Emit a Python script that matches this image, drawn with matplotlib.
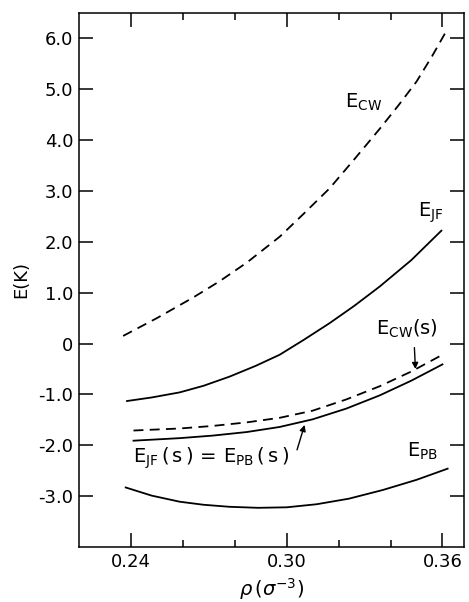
import matplotlib
matplotlib.use('Agg')
import matplotlib.pyplot as plt
import numpy as np

# curves: density rho (sigma^-3) vs energy E (K)
rho_cw = [0.237, 0.250, 0.2638, 0.274, 0.2846, 0.2973, 0.3065, 0.3165, 0.326,
          0.3358, 0.343, 0.350, 0.356, 0.361]
e_cw = [0.15, 0.50, 0.90, 1.22, 1.59, 2.10, 2.55, 3.05, 3.62,
        4.22, 4.68, 5.15, 5.65, 6.10]

rho_jf = [0.2385, 0.248, 0.2588, 0.268, 0.278, 0.288, 0.2973, 0.3065, 0.3165,
          0.326, 0.3358, 0.348, 0.3596]
e_jf = [-1.13, -1.06, -0.96, -0.83, -0.65, -0.44, -0.22, 0.07, 0.40,
        0.74, 1.12, 1.64, 2.22]

rho_cws = [0.241, 0.2588, 0.2715, 0.2846, 0.2973, 0.310, 0.3229, 0.3358, 0.348, 0.360]
e_cws = [-1.71, -1.67, -1.62, -1.55, -1.46, -1.32, -1.10, -0.84, -0.55, -0.22]

rho_jfs = [0.241, 0.2588, 0.2715, 0.2846, 0.2973, 0.310, 0.3229, 0.3358, 0.348, 0.360]
e_jfs = [-1.91, -1.86, -1.81, -1.74, -1.64, -1.49, -1.28, -1.02, -0.73, -0.41]

rho_pb = [0.238, 0.248, 0.2588, 0.268, 0.278, 0.289, 0.300, 0.3115, 0.324,
          0.337, 0.350, 0.362]
e_pb = [-2.83, -2.99, -3.11, -3.17, -3.21, -3.23, -3.22, -3.16, -3.05,
        -2.88, -2.68, -2.46]

yticks = [-3, -2, -1, 0, 1, 2, 3, 4, 5, 6]
ytick_labels = ['-3.0', '-2.0', '-1.0', '0', '1.0', '2.0', '3.0', '4.0', '5.0', '6.0']
xticks = [0.24, 0.30, 0.36]
xtick_labels = ['0.24', '0.30', '0.36']
xminor = [0.26, 0.28, 0.32, 0.34]

fig = plt.figure(figsize=(4.69, 6.02), dpi=100)
ax = fig.add_axes([0.1684, 0.0914, 0.8209, 0.887])

dash = (0, (5.5, 3.5))
ax.plot(rho_cw, e_cw, color='black', lw=1.3, linestyle=dash)
ax.plot(rho_jf, e_jf, color='black', lw=1.3)
ax.plot(rho_cws, e_cws, color='black', lw=1.3, linestyle=dash)
ax.plot(rho_jfs, e_jfs, color='black', lw=1.3)
ax.plot(rho_pb, e_pb, color='black', lw=1.3)

ax.set_xlim(0.22, 0.3683)
ax.set_ylim(-4.0, 6.5)

ax.set_yticks(yticks)
ax.set_yticklabels(ytick_labels)
ax.set_xticks(xticks)
ax.set_xticklabels(xtick_labels)
ax.set_xticks(xminor, minor=True)

ax.tick_params(which='both', direction='in', top=True, right=True,
               labelsize=13, width=1.1, pad=4)
ax.tick_params(which='major', length=10)
ax.tick_params(which='minor', length=5)
for s in ax.spines.values():
    s.set_linewidth(1.1)

ax.set_ylabel('E(K)', fontsize=13, labelpad=6)
ax.set_xlabel(r'$\rho\,(\sigma^{-3})$', fontsize=14, labelpad=4)

fs = 14
ax.text(0.3223, 4.64, r'$\mathrm{E_{CW}}$', fontsize=fs, ha='left', va='baseline')
ax.text(0.3504, 2.50, r'$\mathrm{E_{JF}}$', fontsize=fs, ha='left', va='baseline')
ax.text(0.3346, 0.18, r'$\mathrm{E_{CW}(s)}$', fontsize=fs, ha='left', va='baseline')
ax.text(0.3462, -2.22, r'$\mathrm{E_{PB}}$', fontsize=fs, ha='left', va='baseline')
ax.text(0.2408, -2.34, r'$\mathrm{E_{JF}\,(\,s\,)\,=\,E_{PB}\,(\,s\,)}$', fontsize=fs,
        ha='left', va='baseline')

arrow = dict(arrowstyle='-|>', color='black', lw=1.0, mutation_scale=9,
             shrinkA=0, shrinkB=0)
ax.annotate('', xy=(0.3496, -0.50), xytext=(0.3492, -0.08), arrowprops=arrow)
ax.annotate('', xy=(0.3069, -1.60), xytext=(0.3040, -2.09), arrowprops=arrow)

fig.savefig('out.png', dpi=100)
